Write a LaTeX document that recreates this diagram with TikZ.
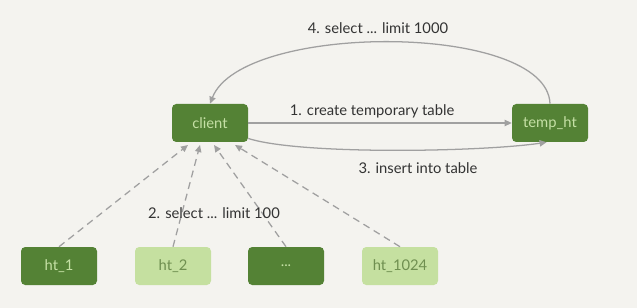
\documentclass[tikz,border=0pt]{standalone}
\usepackage{fontspec}
\setmainfont{Lato}
\usetikzlibrary{arrows.meta}

\definecolor{bgcol}{HTML}{F4F3EF}
\definecolor{darkgreen}{HTML}{548235}
\definecolor{lightgreen}{HTML}{C5E0A0}
\definecolor{paletext}{HTML}{C5E0A5}
\definecolor{dimtext}{HTML}{6F8F50}
\definecolor{linecol}{HTML}{A0A0A0}
\definecolor{labelcol}{HTML}{333333}

\tikzset{
  darkbox/.style={rectangle, rounded corners=3pt, fill=darkgreen, text=paletext,
    minimum width=76*0.025cm, minimum height=38*0.025cm, inner sep=0pt,
    font=\fontsize{10.5}{12}\selectfont},
  lightbox/.style={darkbox, fill=lightgreen, text=dimtext},
  flow/.style={draw=linecol, line width=0.9pt, -{Triangle[length=5pt,width=4.5pt]}},
  fetch/.style={flow, dash pattern=on 5pt off 3.5pt},
  steplabel/.style={text=labelcol, font=\fontsize{10.5}{12}\selectfont, inner sep=1pt}
}

\begin{document}
\begin{tikzpicture}[x=0.025cm, y=-0.025cm]
    % Background and page size
    \fill[bgcol] (0,0) rectangle (637,308);
    \useasboundingbox (0,0) rectangle (637,308);

    % Main nodes
    \node[darkbox] (client) at (210,123) {client};
    \node[darkbox] (temp) at (550,123) {temp\_ht};

    % Shard nodes
    \node[darkbox]  (ht1) at (59,266) {ht\_1};
    \node[lightbox] (ht2) at (173,266) {ht\_2};
    \node[darkbox]  (htdots) at (286,266) {...};
    \node[lightbox] (ht1024) at (400,266) {ht\_1024};

    % Step 1: create temporary table
    \draw[flow] (client) -- (temp)
        node[steplabel, pos=0.47, above=2pt] (lbl1) {1. create temporary table};

    % Step 2: select from each shard
    \draw[fetch] (ht1.north) -- (188,145);
    \draw[fetch] (ht2.north) -- (200,145);
    \draw[fetch] (htdots.north) -- (214,145);
    \draw[fetch] (ht1024.north) -- (235,145);
    \node[steplabel] (lbl2) at (214,213) {2. select ... limit 100};

    % Step 3: insert into table
    \draw[flow] (client.-22) .. controls (300,155) and (480,152) .. (temp.-100);
    \node[steplabel] (lbl3) at (418,168) {3. insert into table};

    % Step 4: select from temporary table
    \draw[flow] (temp.north) .. controls (547,22) and (242,22) .. (client.north);
    \node[steplabel] (lbl4) at (378,28) {4. select ... limit 1000};
\end{tikzpicture}
\end{document}
